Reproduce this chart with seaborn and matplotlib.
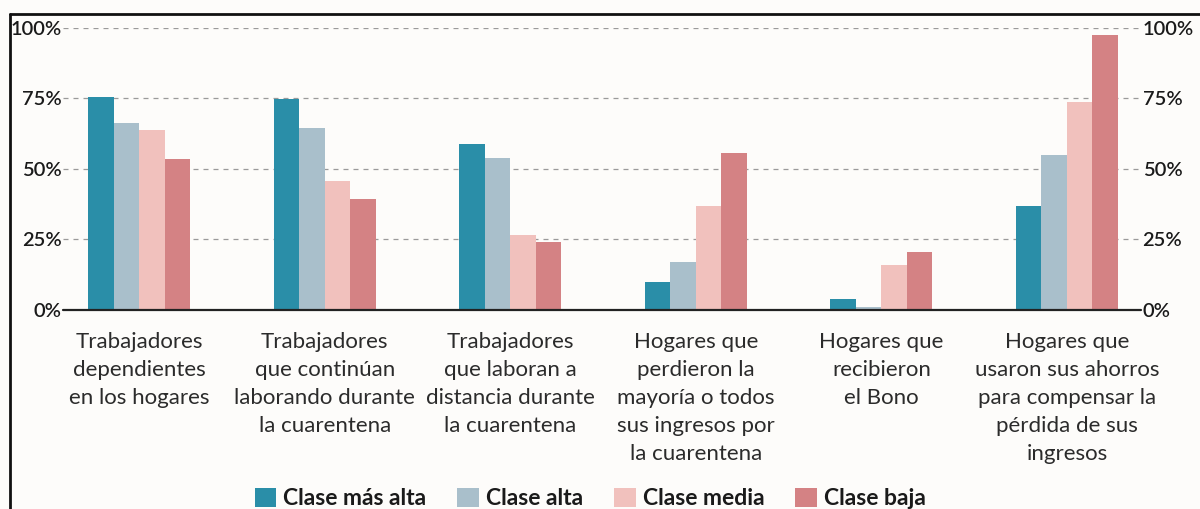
import matplotlib
matplotlib.use("Agg")
import matplotlib.pyplot as plt
from matplotlib.lines import Line2D
import seaborn as sns
import pandas as pd

categories = [
    "Trabajadores\ndependientes\nen los hogares",
    "Trabajadores\nque continúan\nlaborando durante\nla cuarentena",
    "Trabajadores\nque laboran a\ndistancia durante\nla cuarentena",
    "Hogares que\nperdieron la\nmayoría o todos\nsus ingresos por\nla cuarentena",
    "Hogares que\nrecibieron\nel Bono",
    "Hogares que\nusaron sus ahorros\npara compensar la\npérdida de sus\ningresos",
]
clases = ["Clase más alta", "Clase alta", "Clase media", "Clase baja"]
clase_mas_alta = [75.5, 74.6, 58.9, 9.8, 3.8, 37.0]
clase_alta = [66.1, 64.6, 53.7, 16.9, 1.2, 54.9]
clase_media = [63.7, 45.8, 26.4, 36.9, 15.8, 73.7]
clase_baja = [53.3, 39.4, 24.1, 55.5, 20.7, 97.5]
yticks = [0, 25, 50, 75, 100]
ytick_labels = ["0%", "25%", "50%", "75%", "100%"]
colors = ["#2a8ea8", "#a9bfcb", "#f1c1bd", "#d48284"]

rows = []
for clase, vals in zip(clases, [clase_mas_alta, clase_alta, clase_media, clase_baja]):
    for cat, v in zip(categories, vals):
        rows.append({"cat": cat, "clase": clase, "valor": v})
df = pd.DataFrame(rows)

sns.set_theme(style="white")
plt.rcParams["font.family"] = ["Lato", "DejaVu Sans"]
bg = "#fdfcfa"
fig = plt.figure(figsize=(12, 5.09), dpi=100, facecolor=bg)
ax = fig.add_axes([0.0525, 0.391, 0.8985, 0.5547])
ax.set_facecolor(bg)

sns.barplot(data=df, x="cat", y="valor", hue="clase", order=categories,
            hue_order=clases, palette=colors, width=0.55, gap=0,
            saturation=1, ax=ax, legend=True, linewidth=0)

ax.set_xlim(-0.41, 5.40)
ax.set_ylim(0, 100)
ax.set_yticks(yticks)
ax.set_yticklabels(ytick_labels)
for y in yticks[1:]:
    ax.axhline(y, color="#9a9a9a", lw=0.9, ls=(0, (4, 4)), zorder=0)
ax.axhline(0, color="#222222", lw=1.6, zorder=5, clip_on=False)
for s in ax.spines.values():
    s.set_visible(False)
ax.set_xlabel("")
ax.set_ylabel("")
ax.tick_params(axis="x", length=0, pad=16, labelsize=16, labelcolor="#2b2b2b")
ax.tick_params(axis="y", length=0, pad=1, labelsize=14.5, labelcolor="#1a1a1a",
               left=False, right=False, labelleft=True, labelright=True)
for lbl in ax.get_yticklabels():
    lbl.set_fontweight("semibold")
for lbl in ax.get_xticklabels():
    lbl.set_linespacing(1.5)

leg = ax.legend(loc="center", bbox_to_anchor=(0.489, -0.668), ncol=4,
                frameon=False, handlelength=0.95, handleheight=0.95,
                handletextpad=0.3, columnspacing=1.35, borderpad=0,
                prop={"weight": "bold", "size": 16.5})
for t in leg.get_texts():
    t.set_color("#1a1a1a")

# frame lines
fig.add_artist(Line2D([10/1200, 1.0], [1 - 14/509, 1 - 14/509], transform=fig.transFigure,
                      color="#111111", lw=2))
fig.add_artist(Line2D([10/1200, 10/1200], [0, 1 - 14/509], transform=fig.transFigure,
                      color="#111111", lw=2))

fig.savefig("out.png", dpi=100, facecolor=bg)
